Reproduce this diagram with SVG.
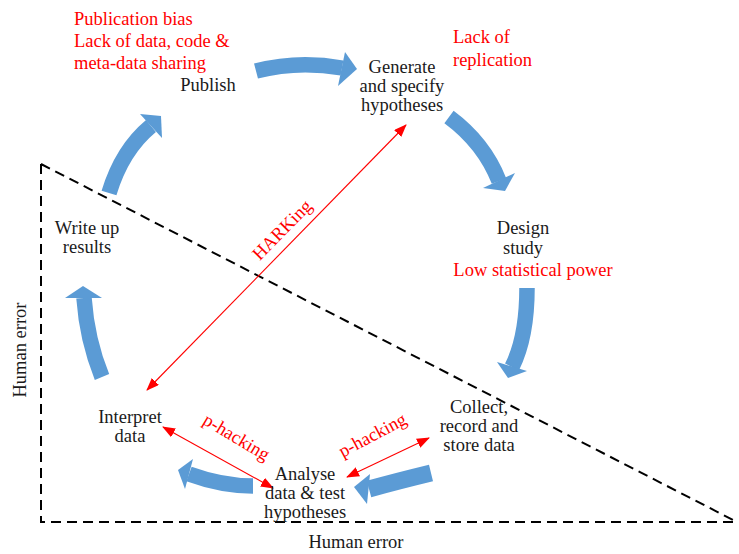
<svg xmlns="http://www.w3.org/2000/svg" width="739" height="554" viewBox="0 0 739 554">
  <defs>
    <style>
      text { font-family: "Liberation Serif", "Times New Roman", serif; font-size: 18.5px; }
      .lbl { fill: #1a1a1a; text-anchor: middle; }
      .issue { fill: #ff0000; }
      .mid { text-anchor: middle; }
      .boundary { fill: none; stroke: #000; stroke-width: 2; stroke-dasharray: 10 6; }
      .cycle path { fill: none; stroke: #5b9bd5; stroke-width: 15.5; stroke-linecap: butt; }
      .cycle polygon { fill: #5b9bd5; }
      .link { stroke: #ff0000; stroke-width: 1.1; fill: none; marker-start: url(#redHead); marker-end: url(#redHead); }
    </style>
    <marker id="redHead" viewBox="0 0 13 10" refX="12" refY="5" markerWidth="13" markerHeight="10" markerUnits="userSpaceOnUse" orient="auto-start-reverse">
      <path d="M0,0 L13,5 L0,10 z" fill="#ff0000"/>
    </marker>
  </defs>

  <rect width="739" height="554" fill="#fff"/>

  <!-- human-error region -->
  <g id="human-error-zone">
    <path class="boundary" d="M41,164 L41,522 L737,522 M41,164 L737,522"/>
    <text class="lbl" transform="translate(26,350) rotate(-90)" x="0" y="0">Human error</text>
    <text class="lbl" x="356" y="548">Human error</text>
  </g>

  <!-- research cycle arrows -->
  <g id="connectors">
    <g class="cycle">
      <path d="M256,71 Q298,60 342,68"/>
      <polygon points="345,52 357,69 338,86"/>
      <path d="M449,117 Q484,143 499,181"/>
      <polygon points="483,188 505,191 515,173"/>
      <path d="M527,288 C527,320 523,345 512,367"/>
      <polygon points="497,362 508,378 527,371"/>
      <path d="M431,473 Q398,481 369,489" style="stroke-width:17"/>
      <polygon points="370,474 354,487 367,504"/>
      <path d="M253,486 Q222,486 189,474"/>
      <polygon points="193,459 178,470 185,489"/>
      <path d="M102,377 Q87,340 84,298"/>
      <polygon points="65,298 83,286 102,298"/>
      <path d="M109,193 Q122,150 151,126"/>
      <polygon points="140,114 161,116 162,138"/>
    </g>
    <g id="questionable-practices">
      <line class="link" x1="147" y1="390" x2="406" y2="125"/>
      <line class="link" x1="163" y1="427" x2="273" y2="488"/>
      <line class="link" x1="347" y1="477" x2="429" y2="438"/>
      <text class="issue mid" transform="translate(282,230) rotate(-45.6)" x="0" y="6">HARKing</text>
      <text class="issue mid" transform="translate(236,438) rotate(31)" x="0" y="5">p-hacking</text>
      <text class="issue mid" transform="translate(373,436) rotate(-28)" x="0" y="5">p-hacking</text>
    </g>
  </g>

  <g id="publish">
    <text class="issue" x="74" y="25">Publication bias</text>
    <text class="issue" x="74" y="47">Lack of data, code &amp;</text>
    <text class="issue" x="74" y="69">meta-data sharing</text>
    <text class="lbl" x="208" y="91">Publish</text>
  </g>

  <g id="generate">
    <text class="lbl" x="402" y="73">Generate</text>
    <text class="lbl" x="402" y="92">and specify</text>
    <text class="lbl" x="402" y="111">hypotheses</text>
    <text class="issue" x="453" y="43">Lack of</text>
    <text class="issue" x="453" y="66">replication</text>
  </g>

  <g id="design">
    <text class="lbl" x="523" y="234">Design</text>
    <text class="lbl" x="523" y="254">study</text>
    <text class="issue mid" x="533" y="276">Low statistical power</text>
  </g>

  <g id="collect">
    <text class="lbl" x="479" y="413">Collect,</text>
    <text class="lbl" x="479" y="432">record and</text>
    <text class="lbl" x="479" y="451">store data</text>
  </g>

  <g id="analyse">
    <text class="lbl" x="305" y="480">Analyse</text>
    <text class="lbl" x="305" y="499">data &amp; test</text>
    <text class="lbl" x="305" y="518">hypotheses</text>
  </g>

  <g id="interpret">
    <text class="lbl" x="130" y="423">Interpret</text>
    <text class="lbl" x="130" y="442">data</text>
  </g>

  <g id="write-up">
    <text class="lbl" x="87" y="234">Write up</text>
    <text class="lbl" x="87" y="253">results</text>
  </g>
</svg>
